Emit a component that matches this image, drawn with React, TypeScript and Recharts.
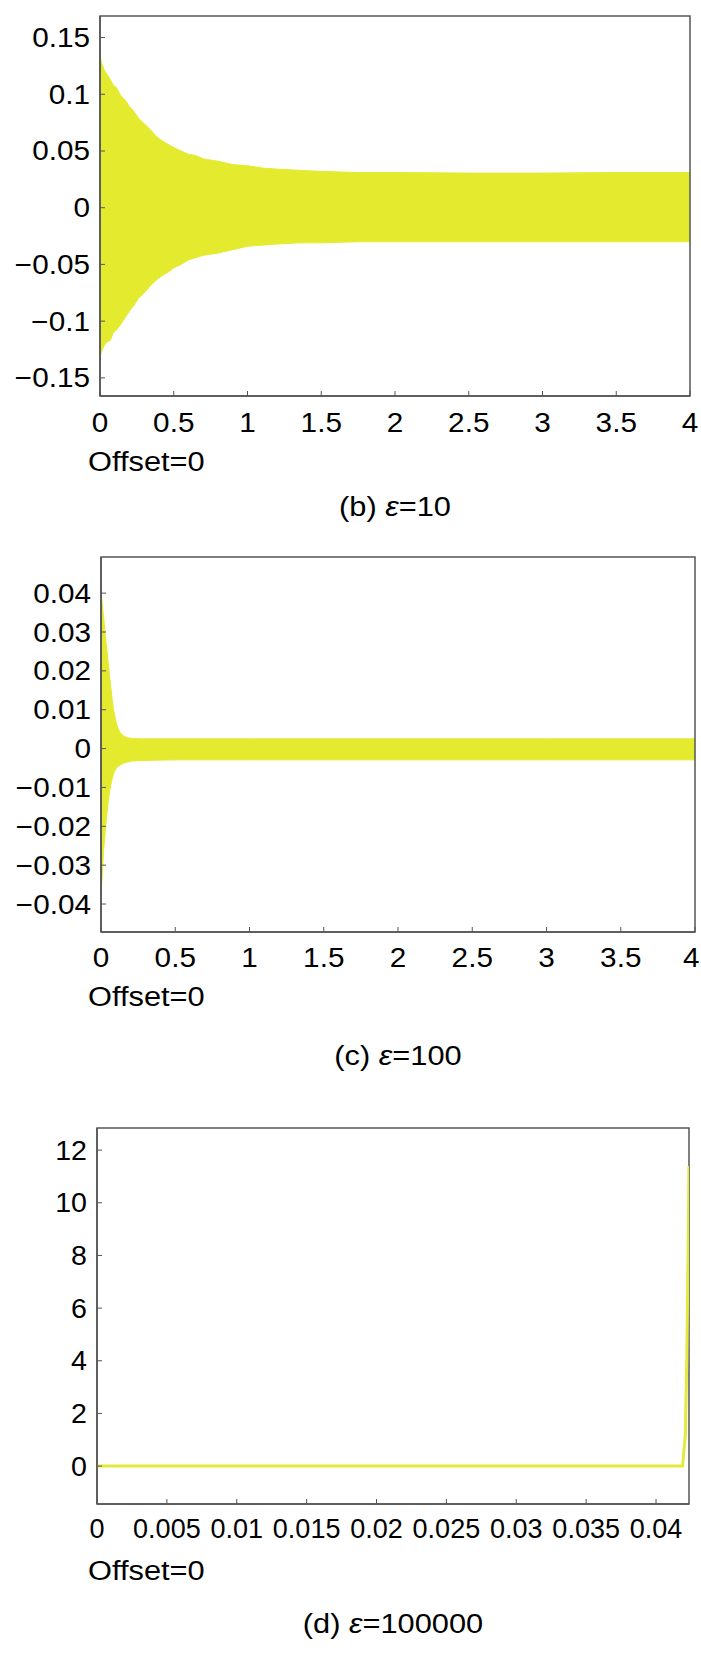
import { AreaChart, Area, LineChart, Line, XAxis, YAxis, ReferenceArea } from 'recharts'

const FONT = '"Liberation Sans", Arial, sans-serif'
const AXIS = '#555555'
const YELLOW = '#E4EB2F'

// (b) eps=10: envelope of the oscillation
const bTime = [0, 0.01, 0.03, 0.05, 0.07, 0.09, 0.11, 0.14, 0.17, 0.2, 0.23, 0.26, 0.3, 0.34, 0.38, 0.42, 0.46, 0.5, 0.55, 0.6, 0.65, 0.7, 0.8, 0.9, 1.0, 1.1, 1.2, 1.35, 1.5, 1.75, 2.0, 2.5, 3.0, 3.5, 4.0]
const bHigh = [0.134, 0.128, 0.121, 0.117, 0.113, 0.108, 0.106, 0.099, 0.095, 0.089, 0.085, 0.079, 0.074, 0.069, 0.063, 0.059, 0.056, 0.053, 0.05, 0.047, 0.046, 0.043, 0.041, 0.038, 0.037, 0.035, 0.034, 0.033, 0.032, 0.031, 0.031, 0.0305, 0.0305, 0.031, 0.031]
const bLow = [-0.132, -0.127, -0.121, -0.118, -0.117, -0.11, -0.108, -0.103, -0.097, -0.091, -0.086, -0.08, -0.075, -0.069, -0.064, -0.06, -0.057, -0.053, -0.05, -0.046, -0.044, -0.042, -0.04, -0.037, -0.034, -0.033, -0.032, -0.031, -0.031, -0.03, -0.03, -0.03, -0.03, -0.03, -0.03]
const bYTicks = [-0.15, -0.1, -0.05, 0, 0.05, 0.1, 0.15]
const bYDomain = [-0.166, 0.169]

// (c) eps=100
const cTime = [0, 0.009, 0.018, 0.029, 0.04, 0.051, 0.063, 0.074, 0.085, 0.096, 0.107, 0.118, 0.13, 0.15, 0.175, 0.21, 0.26, 0.35, 0.5, 1, 1.5, 2, 2.5, 3, 3.5, 4]
const cHigh = [0.0405, 0.037, 0.0337, 0.029, 0.0253, 0.021, 0.0168, 0.013, 0.0099, 0.0077, 0.006, 0.0049, 0.0041, 0.0033, 0.0028, 0.0026, 0.0025, 0.0025, 0.0025, 0.0025, 0.0025, 0.0025, 0.0025, 0.0025, 0.0025, 0.0025]
const cLow = [-0.038, -0.032, -0.026, -0.021, -0.0166, -0.0128, -0.0099, -0.008, -0.0064, -0.0055, -0.0049, -0.0045, -0.0042, -0.0038, -0.0035, -0.0032, -0.0031, -0.003, -0.0029, -0.0029, -0.0029, -0.0029, -0.0029, -0.0029, -0.0029, -0.0029]
const cYTicks = [-0.04, -0.03, -0.02, -0.01, 0, 0.01, 0.02, 0.03, 0.04]
const cYDomain = [-0.0472, 0.0493]

const tXTicks = [0, 0.5, 1, 1.5, 2, 2.5, 3, 3.5, 4]
const tXDomain = [0, 4]

// (d) eps=100000
const dTime = [0, 0.005, 0.01, 0.015, 0.02, 0.025, 0.03, 0.035, 0.04, 0.0419, 0.0421, 0.0422, 0.0423, 0.04236]
const dValue = [0, 0, 0, 0, 0, 0, 0, 0, 0, 0, 1.2, 4.0, 8.3, 11.4]
const dXTicks = [0, 0.005, 0.01, 0.015, 0.02, 0.025, 0.03, 0.035, 0.04]
const dXDomain = [0, 0.04236]
const dYTicks = [0, 2, 4, 6, 8, 10, 12]
const dYDomain = [-1.44, 12.84]

const bData = bTime.map((t, i) => ({ t, band: [bLow[i], bHigh[i]] }))
const cData = cTime.map((t, i) => ({ t, band: [cLow[i], cHigh[i]] }))
const dData = dTime.map((t, i) => ({ t, v: dValue[i] }))

const fmt = (v: number) => (v < 0 ? '\u2212' + String(Math.abs(v)) : String(v))

const textStyle = { fontFamily: FONT, fontSize: 27, fill: '#000' }

// inward tick marks, labels outside; keep the last label inside the page
function xTick(base: number, sx: number) {
  return (p: any) => {
    const label = fmt(p.payload.value)
    const half = label.length * 8 * sx
    const tx = Math.min(p.x, 700 - half)
    return (
      <g>
        <line x1={p.x} x2={p.x} y1={p.y} y2={p.y - 5} stroke={AXIS} strokeWidth={1} />
        <text transform={`translate(${tx},${p.y + base}) scale(${sx},1)`} textAnchor="middle" {...textStyle}>{label}</text>
      </g>
    )
  }
}

function yTick(sx: number) {
  return (p: any) => (
    <g>
      <line x1={p.x} x2={p.x + 5} y1={p.y} y2={p.y} stroke={AXIS} strokeWidth={1} />
      <text transform={`translate(${p.x - 10},${p.y + 9.5}) scale(${sx},1)`} textAnchor="end" {...textStyle}>{fmt(p.payload.value)}</text>
    </g>
  )
}

const axisLine = { stroke: AXIS, strokeWidth: 1.5 }

const caption: any = { position: 'absolute', fontFamily: FONT, fontSize: 27, lineHeight: '27px', color: '#000', whiteSpace: 'nowrap' }

function Offset({ top }: { top: number }) {
  return <div style={{ ...caption, top: top - 14, left: 88, transform: 'scaleX(1.14)', transformOrigin: 'left center' }}>Offset=0</div>
}

function Title({ top, cx, tag, eps }: { top: number; cx: number; tag: string; eps: string }) {
  return (
    <div style={{ ...caption, top: top - 14, left: cx - 150, width: 300, textAlign: 'center', transform: 'scaleX(1.14)', transformOrigin: 'center center' }}>
      ({tag}) <i>ε</i>={eps}
    </div>
  )
}

export default function App() {
  return (
    <div style={{ position: 'absolute', left: 0, top: 0, width: 701, height: 1653, background: '#fff' }}>
      {/* (b) */}
      <div style={{ position: 'absolute', left: 0, top: 0 }}>
        <AreaChart width={701} height={440} data={bData} margin={{ top: 16, right: 11, bottom: 4, left: 0 }}>
          <XAxis dataKey="t" type="number" domain={tXDomain} ticks={tXTicks} interval={0} height={40} tickSize={0} tickMargin={0} tickLine={false} axisLine={axisLine} tick={xTick(36, 1.1)} allowDataOverflow />
          <YAxis type="number" domain={bYDomain} ticks={bYTicks} interval={0} width={100} tickSize={0} tickMargin={0} tickLine={false} axisLine={axisLine} tick={yTick(1.1)} allowDataOverflow />
          <Area type="linear" dataKey="band" stroke={YELLOW} strokeWidth={1} fill={YELLOW} fillOpacity={1} isAnimationActive={false} />
          <ReferenceArea x1={tXDomain[0]} x2={tXDomain[1]} y1={bYDomain[0]} y2={bYDomain[1]} fill="none" fillOpacity={0} stroke={AXIS} strokeWidth={1.5} strokeOpacity={1} />
        </AreaChart>
      </div>
      <Offset top={463} />
      <Title top={508} cx={395} tag="b" eps="10" />

      {/* (c) */}
      <div style={{ position: 'absolute', left: 0, top: 541 }}>
        <AreaChart width={701} height={440} data={cData} margin={{ top: 16, right: 6, bottom: 9, left: 0 }}>
          <XAxis dataKey="t" type="number" domain={tXDomain} ticks={tXTicks} interval={0} height={40} tickSize={0} tickMargin={0} tickLine={false} axisLine={axisLine} tick={xTick(35, 1.1)} allowDataOverflow />
          <YAxis type="number" domain={cYDomain} ticks={cYTicks} interval={0} width={101} tickSize={0} tickMargin={0} tickLine={false} axisLine={axisLine} tick={yTick(1.1)} allowDataOverflow />
          <Area type="linear" dataKey="band" stroke={YELLOW} strokeWidth={1} fill={YELLOW} fillOpacity={1} isAnimationActive={false} />
          <ReferenceArea x1={tXDomain[0]} x2={tXDomain[1]} y1={cYDomain[0]} y2={cYDomain[1]} fill="none" fillOpacity={0} stroke={AXIS} strokeWidth={1.5} strokeOpacity={1} />
        </AreaChart>
      </div>
      <Offset top={998} />
      <Title top={1057} cx={398} tag="c" eps="100" />

      {/* (d) */}
      <div style={{ position: 'absolute', left: 0, top: 1112 }}>
        <LineChart width={701} height={440} data={dData} margin={{ top: 16, right: 12, bottom: 8, left: 0 }}>
          <XAxis dataKey="t" type="number" domain={dXDomain} ticks={dXTicks} interval={0} height={40} tickSize={0} tickMargin={0} tickLine={false} axisLine={axisLine} tick={xTick(34, 1.0)} allowDataOverflow />
          <YAxis type="number" domain={dYDomain} ticks={dYTicks} interval={0} width={97} tickSize={0} tickMargin={0} tickLine={false} axisLine={axisLine} tick={yTick(1.06)} allowDataOverflow />
          <Line type="linear" dataKey="v" stroke="#E3EA3A" strokeWidth={3} dot={false} isAnimationActive={false} />
          <ReferenceArea x1={dXDomain[0]} x2={dXDomain[1]} y1={dYDomain[0]} y2={dYDomain[1]} fill="none" fillOpacity={0} stroke={AXIS} strokeWidth={1.5} strokeOpacity={1} />
        </LineChart>
      </div>
      <Offset top={1572} />
      <Title top={1625} cx={393} tag="d" eps="100000" />
    </div>
  )
}
